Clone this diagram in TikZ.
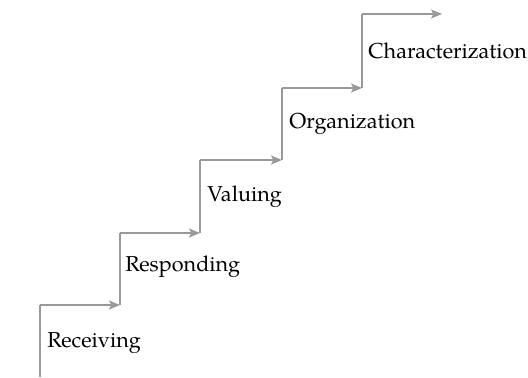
\documentclass[tikz,border=0pt]{standalone}
\usepackage{fontspec}
\setmainfont{TeX Gyre Pagella}
\usetikzlibrary{arrows.meta}
\tikzset{
  stair/.style={draw=black!40, line width=0.75pt},
  stairarrow/.style={stair, -{Stealth[length=5.5pt,width=4.5pt,inset=1.2pt]}},
  level/.style={anchor=base west, inner sep=0pt, font=\fontsize{10.8}{13}\selectfont}
}
\begin{document}
\begin{tikzpicture}[x=0.5pt,y=-0.5pt]
\useasboundingbox (0,0) rectangle (528,377);
\coordinate (p0) at (40,377);
\coordinate (p1) at (40,305);
\coordinate (p2) at (120,305);
\coordinate (p3) at (120,233);
\coordinate (p4) at (200,233);
\coordinate (p5) at (200,160);
\coordinate (p6) at (282,160);
\coordinate (p7) at (282,88);
\coordinate (p8) at (362,88);
\coordinate (p9) at (362,14);
\coordinate (p10) at (442,14);
\draw[stair] (p0) -- (p1);
\draw[stairarrow] (p1) -- (p2);
\draw[stair] (p2) -- (p3);
\draw[stairarrow] (p3) -- (p4);
\draw[stair] (p4) -- (p5);
\draw[stairarrow] (p5) -- (p6);
\draw[stair] (p6) -- (p7);
\draw[stairarrow] (p7) -- (p8);
\draw[stair] (p8) -- (p9);
\draw[stairarrow] (p9) -- (p10);
\node[level] (l1) at (47,347) {Receiving};
\node[level] (l2) at (125,271) {Responding};
\node[level] (l3) at (207,201) {Valuing};
\node[level] (l4) at (289,128) {Organization};
\node[level] (l5) at (368,58) {Characterization};
\end{tikzpicture}
\end{document}
